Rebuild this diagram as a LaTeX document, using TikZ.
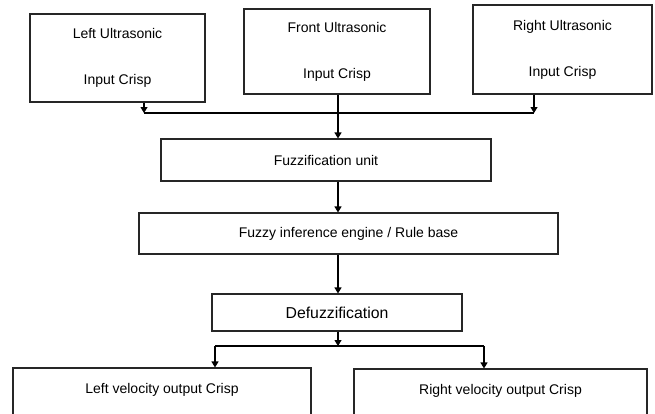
\documentclass[tikz,border=0pt]{standalone}
\usepackage{fontspec}
\setmainfont{Liberation Sans}
\usetikzlibrary{arrows.meta}

\tikzset{
  block/.style={draw=black!85, line width=1.1pt, inner sep=0pt, align=center,
    font=\fontsize{14}{15}\selectfont},
  flow/.style={line width=1.1pt, draw=black, -{Triangle[length=6pt,width=7pt]}},
  bus/.style={line width=1.1pt, draw=black}
}

\begin{document}
\begin{tikzpicture}[x=1pt,y=-1pt]
  \useasboundingbox (0,0) rectangle (655,413);
  % sensor inputs
  \node[block, minimum width=175pt, minimum height=88pt] (lu) at (117.5,58) {Left Ultrasonic\\[31pt]Input Crisp};
  \node[block, minimum width=186pt, minimum height=85pt] (fu) at (337,51.5) {Front Ultrasonic\\[31pt]Input Crisp};
  \node[block, minimum width=179pt, minimum height=89pt] (ru) at (562.5,49.5) {Right Ultrasonic\\[31pt]Input Crisp};
  % fuzzy stages
  \node[block, minimum width=330pt, minimum height=42pt] (fz) at (326,160) {Fuzzification unit};
  \node[block, minimum width=419pt, minimum height=41pt] (fie) at (348.5,233.5) {Fuzzy inference engine / Rule base};
  \node[block, minimum width=250pt, minimum height=37pt, font=\fontsize{15.8}{17}\selectfont] (dfz) at (337,312.5) {Defuzzification};
  % outputs
  \node[block, minimum width=298pt, minimum height=50pt] (lv) at (162,393) {Left velocity output Crisp\\[-5pt]\mbox{}};
  \node[block, minimum width=293pt, minimum height=50pt] (rv) at (500.5,394) {Right velocity output Crisp\\[-5pt]\mbox{}};

  \coordinate (inL) at (144,113);
  \coordinate (inR) at (534,113);
  \coordinate (outL) at (215,346);
  \coordinate (outR) at (484,346);
  \coordinate (spine) at (338,0);
  \coordinate (split) at (338,346);

  \draw[bus] (inL) -- (inR);
  \draw[flow] (lu.south -| inL) -- (inL);
  \draw[flow] (ru.south -| inR) -- (inR);
  \draw[flow] (fu.south -| spine) -- (fz.north -| spine);
  \draw[flow] (fz.south -| spine) -- (fie.north -| spine);
  \draw[flow] (fie.south -| spine) -- (dfz.north -| spine);
  \draw[flow] (dfz.south -| spine) -- (split);
  \draw[bus] (outL) -- (outR);
  \draw[flow] (outL) -- (lv.north -| outL);
  \draw[flow] (outR) -- (rv.north -| outR);
\end{tikzpicture}
\end{document}
